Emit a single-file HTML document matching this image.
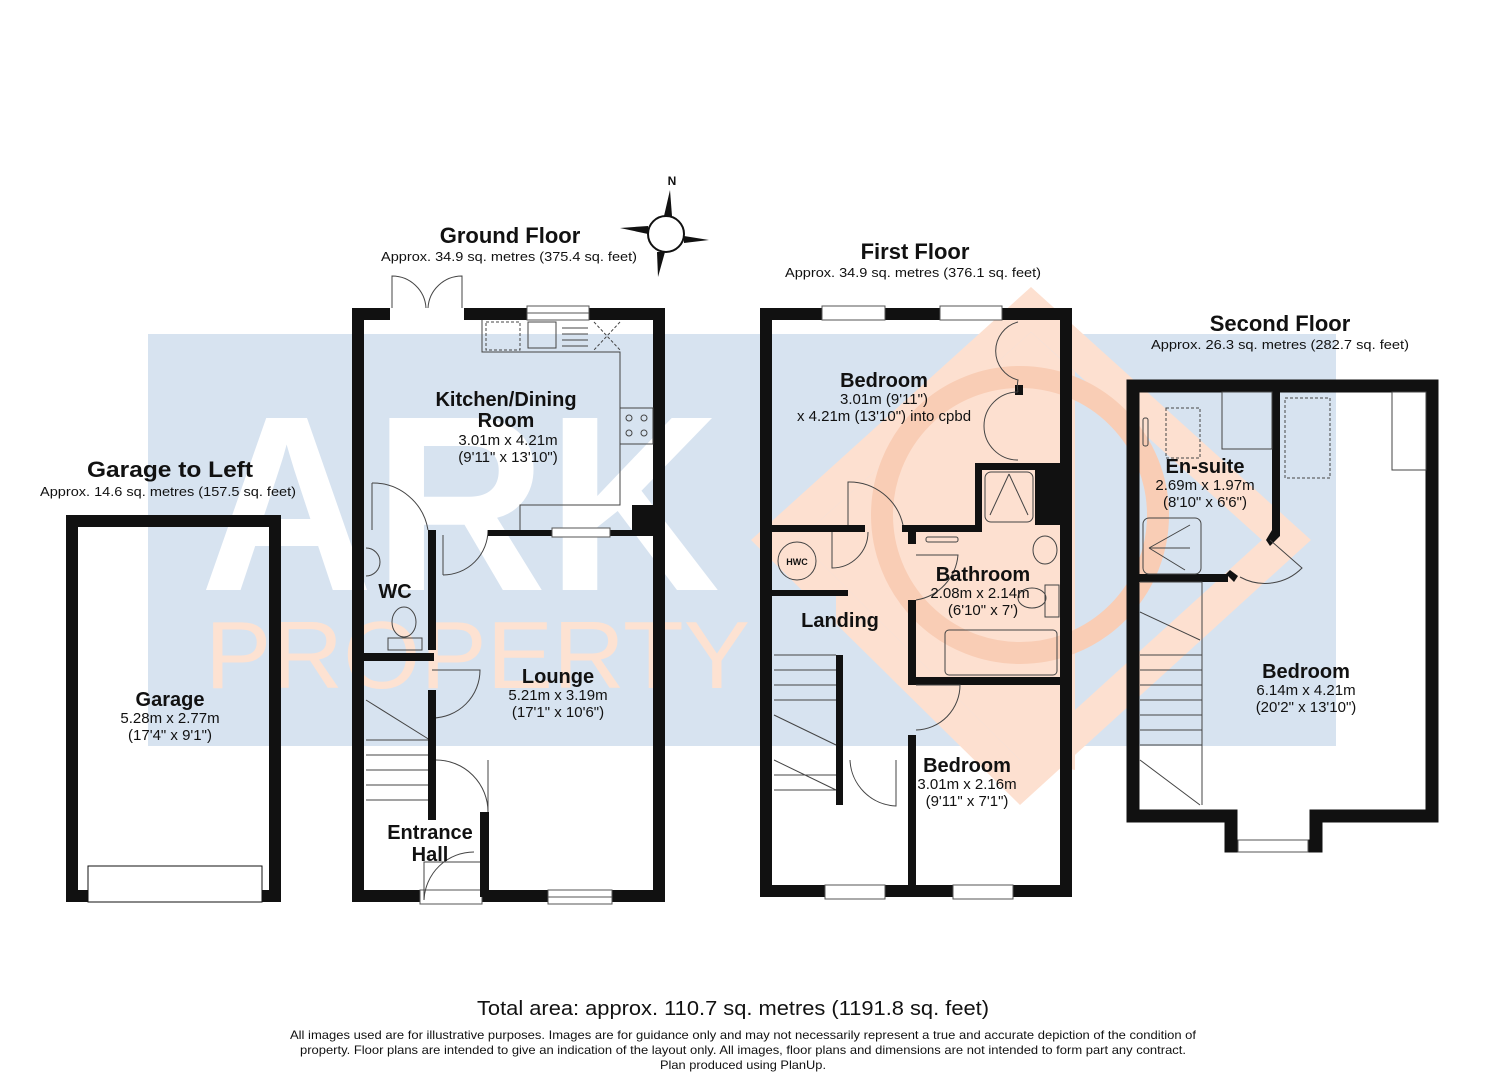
<!DOCTYPE html>
<html><head><meta charset="utf-8"><style>
html,body{margin:0;padding:0;background:#fff;width:1485px;height:1080px;overflow:hidden}
svg{display:block}
text{font-family:"Liberation Sans",Arial,sans-serif;fill:#111}
.b{font-weight:bold;font-size:20px}
.d{font-size:15px}
.t{font-weight:bold;font-size:22px}
.s{font-size:13px}
</style></head><body>
<svg width="1485" height="1080" viewBox="0 0 1485 1080" xmlns="http://www.w3.org/2000/svg">
<!-- watermark -->
<rect x="148" y="334" width="1188" height="412" fill="#d7e3f0"/>
<polygon points="1031,287 1311,540 1020,805 751,540" fill="#fde0d0"/>
<polygon points="1031,332 1262,540 1020,760 798,540" fill="#d7e3f0"/>
<polygon points="1031,332 1075,372 1075,770 1020,760 798,540" fill="#fde0d0"/>
<rect x="772" y="596" width="64" height="150" fill="#d7e3f0"/>
<circle cx="1020" cy="515" r="138" fill="none" stroke="#f9cdb5" stroke-width="22"/>
<text x="200" y="590" style="font-size:250px;font-weight:bold;fill:#fff" textLength="520" lengthAdjust="spacingAndGlyphs">ARK</text>
<text x="205" y="688" style="font-size:96px;fill:#fde2d2" textLength="545" lengthAdjust="spacingAndGlyphs">PROPERTY</text>

<g fill="none" stroke="#111">
<rect x="72" y="521" width="203" height="375" stroke-width="12"/>
<rect x="88" y="866" width="174" height="36" fill="#fff" stroke-width="1"/>
<rect x="358" y="314" width="301" height="582" stroke-width="12"/>
</g>
<rect x="390" y="306" width="74" height="14" fill="#fff"/>
<rect x="527" y="306" width="62" height="14" fill="#fff" stroke="#555" stroke-width="1"/>
<line x1="527" y1="313" x2="589" y2="313" stroke="#555"/>
<rect x="420" y="890" width="62" height="14" fill="#fff" stroke="#555"/>
<rect x="548" y="890" width="64" height="14" fill="#fff" stroke="#555"/>
<line x1="548" y1="897" x2="612" y2="897" stroke="#555"/>
<g fill="none" stroke="#444" stroke-width="1">
<path d="M392 308 L392 276 A34 34 0 0 1 426 308 M462 308 L462 276 A34 34 0 0 0 428 308"/>
<path d="M482 320 L482 352 L620 352 L620 505 L520 505 L520 530"/>
<rect x="486" y="322" width="34" height="28" stroke-dasharray="3 2"/>
<rect x="528" y="322" width="28" height="26"/>
<path d="M562 328 H588 M562 334 H588 M562 340 H588 M562 346 H588"/>
<path d="M594 322 L620 350 M620 322 L594 350" stroke-dasharray="3 2"/>
<rect x="620" y="408" width="33" height="36"/>
<circle cx="629" cy="418" r="3"/><circle cx="644" cy="418" r="3"/><circle cx="629" cy="433" r="3"/><circle cx="644" cy="433" r="3"/>
<path d="M372 483 L372 530 M372 483 A56 56 0 0 1 428 530"/>
<path d="M443 575 L443 535 M443 575 A45 45 0 0 0 488 530"/>
<path d="M432 670 L480 670 A48 48 0 0 1 432 718"/>
<path d="M436 760 A52 52 0 0 1 488 812 L488 760"/>
<path d="M424 900 L424 862 L480 862"/>
<path d="M424 900 A50 50 0 0 1 474 852"/>
<path d="M366 700 L430 740 M366 740 H430 M366 755 H430 M366 770 H430 M366 785 H430 M366 800 H430"/>
<ellipse cx="404" cy="622" rx="12" ry="15"/><rect x="388" y="638" width="34" height="12"/>
<path d="M366 548 A14 14 0 0 1 366 576"/>
</g>
<g fill="#111">
<rect x="428" y="530" width="8" height="120"/>
<rect x="364" y="653" width="70" height="8"/>
<rect x="428" y="690" width="8" height="130"/>
<rect x="488" y="530" width="170" height="6"/>
<rect x="632" y="505" width="26" height="28"/>
<rect x="480" y="812" width="9" height="85"/>
</g>
<rect x="552" y="528" width="58" height="9" fill="#fff" stroke="#555"/>

<!-- First floor -->
<rect x="766" y="314" width="300" height="577" fill="none" stroke="#111" stroke-width="12"/>
<rect x="822" y="306" width="63" height="14" fill="#fff" stroke="#555"/>
<rect x="940" y="306" width="62" height="14" fill="#fff" stroke="#555"/>
<rect x="825" y="885" width="60" height="14" fill="#fff" stroke="#555"/>
<rect x="953" y="885" width="60" height="14" fill="#fff" stroke="#555"/>
<g fill="#111">
<rect x="975" y="463" width="97" height="7"/>
<rect x="1035" y="463" width="37" height="62"/>
<rect x="772" y="525" width="93" height="7"/>
<rect x="902" y="525" width="80" height="7"/>
<rect x="975" y="463" width="7" height="69"/>
<rect x="772" y="590" width="76" height="6"/>
<rect x="908" y="532" width="8" height="12"/>
<rect x="908" y="600" width="8" height="85"/>
<rect x="908" y="677" width="160" height="8"/>
<rect x="908" y="735" width="8" height="152"/>
<rect x="836" y="655" width="7" height="150"/>
<rect x="1015" y="385" width="8" height="10"/>
</g>
<g fill="none" stroke="#444" stroke-width="1">
<path d="M1018 322 A30 30 0 0 0 1018 380 A30 30 0 0 0 1018 392 M1018 392 A32 32 0 0 0 1018 460"/>
<rect x="985" y="472" width="48" height="50" rx="6"/>
<path d="M1009 474 L990 515 M1009 474 L1028 515"/>
<path d="M848 525 L848 482 A55 55 0 0 1 903 525"/>
<path d="M832 532 L832 568 A36 36 0 0 0 868 532"/>
<circle cx="797" cy="561" r="19"/>
<path d="M916 555 L958 555 A50 50 0 0 1 916 600"/>
<rect x="926" y="537" width="32" height="5" rx="2"/>
<ellipse cx="1045" cy="550" rx="12" ry="14"/>
<ellipse cx="1032" cy="598" rx="14" ry="10"/><rect x="1045" y="585" width="14" height="32"/>
<rect x="945" y="630" width="112" height="45" rx="4"/>
<path d="M916 685 L960 685 A45 45 0 0 1 916 730"/>
<path d="M850 760 A48 48 0 0 0 896 806 L896 760"/>
<path d="M774 655 H836 M774 670 H836 M774 685 H836 M774 700 H836 M774 715 L836 745 M774 760 L836 790 M774 775 H836 M774 790 H836"/>
</g>
<text x="797" y="565" style="font-size:9px;font-weight:bold" text-anchor="middle">HWC</text>

<!-- Second floor -->
<path d="M1133 386 H1432 V816 H1316 V846 H1231 V816 H1133 Z" fill="none" stroke="#111" stroke-width="13"/>
<rect x="1238" y="840" width="70" height="12" fill="#fff" stroke="#555"/>
<g fill="#111">
<rect x="1272" y="392" width="8" height="140"/>
<path d="M1272 530 L1280 530 L1280 536 L1270 546 L1266 540 Z"/>
<rect x="1138" y="574" width="90" height="8"/>
<path d="M1226 574 L1234 582 L1238 576 L1230 570 Z"/>
</g>
<g fill="none" stroke="#444" stroke-width="1">
<rect x="1143" y="518" width="58" height="56" rx="6"/>
<path d="M1149 548 L1190 525 M1149 548 L1190 548 M1149 548 L1185 570"/>
<rect x="1166" y="408" width="34" height="50" stroke-dasharray="3 2"/>
<rect x="1285" y="398" width="45" height="80" stroke-dasharray="3 2"/>
<rect x="1222" y="392" width="50" height="57"/>
<rect x="1392" y="392" width="34" height="78"/>
<rect x="1143" y="418" width="5" height="28" rx="2"/>
<path d="M1240 577 A52 52 0 0 0 1302 568 L1270 540"/>
<path d="M1140 582 L1202 582 L1202 805 M1140 612 L1200 640 M1140 655 H1202 M1140 670 H1202 M1140 685 H1202 M1140 700 H1202 M1140 715 H1202 M1140 730 H1202 M1140 745 H1202 M1140 760 L1200 805"/>
</g>

<!-- compass -->
<circle cx="666" cy="234" r="18" fill="#fff" stroke="#111" stroke-width="2"/>
<polygon points="670,190 672,216 664,216" fill="#111"/>
<polygon points="709,240 684,236 684,243" fill="#111"/>
<polygon points="620,228 648,226 648,234" fill="#111"/>
<polygon points="658,277 657,252 665,252" fill="#111"/>
<text x="672" y="185" style="font-size:12px;font-weight:bold" text-anchor="middle">N</text>

<text x="510" y="243" class="t" text-anchor="middle">Ground Floor</text>
<text x="509" y="261" class="s" text-anchor="middle" textLength="256" lengthAdjust="spacingAndGlyphs">Approx. 34.9 sq. metres (375.4 sq. feet)</text>
<text x="915" y="259" class="t" text-anchor="middle">First Floor</text>
<text x="913" y="277" class="s" text-anchor="middle" textLength="256" lengthAdjust="spacingAndGlyphs">Approx. 34.9 sq. metres (376.1 sq. feet)</text>
<text x="1280" y="331" class="t" text-anchor="middle">Second Floor</text>
<text x="1280" y="349" class="s" text-anchor="middle" textLength="258" lengthAdjust="spacingAndGlyphs">Approx. 26.3 sq. metres (282.7 sq. feet)</text>
<text x="170" y="477" class="t" text-anchor="middle" textLength="166" lengthAdjust="spacingAndGlyphs">Garage to Left</text>
<text x="168" y="496" class="s" text-anchor="middle" textLength="256" lengthAdjust="spacingAndGlyphs">Approx. 14.6 sq. metres (157.5 sq. feet)</text>

<text x="506" y="406" class="b" text-anchor="middle">Kitchen/Dining</text>
<text x="506" y="427" class="b" text-anchor="middle">Room</text>
<text x="508" y="445" class="d" text-anchor="middle">3.01m x 4.21m</text>
<text x="508" y="462" class="d" text-anchor="middle">(9'11" x 13'10")</text>
<text x="395" y="598" class="b" text-anchor="middle">WC</text>
<text x="558" y="683" class="b" text-anchor="middle">Lounge</text>
<text x="558" y="700" class="d" text-anchor="middle">5.21m x 3.19m</text>
<text x="558" y="717" class="d" text-anchor="middle">(17'1" x 10'6")</text>
<text x="430" y="839" class="b" text-anchor="middle">Entrance</text>
<text x="430" y="861" class="b" text-anchor="middle">Hall</text>
<text x="170" y="706" class="b" text-anchor="middle">Garage</text>
<text x="170" y="723" class="d" text-anchor="middle">5.28m x 2.77m</text>
<text x="170" y="740" class="d" text-anchor="middle">(17'4" x 9'1")</text>
<text x="884" y="387" class="b" text-anchor="middle">Bedroom</text>
<text x="884" y="404" class="d" text-anchor="middle">3.01m (9'11")</text>
<text x="884" y="421" class="d" text-anchor="middle">x 4.21m (13'10") into cpbd</text>
<text x="983" y="581" class="b" text-anchor="middle">Bathroom</text>
<text x="980" y="598" class="d" text-anchor="middle">2.08m x 2.14m</text>
<text x="983" y="615" class="d" text-anchor="middle">(6'10" x 7')</text>
<text x="840" y="627" class="b" text-anchor="middle">Landing</text>
<text x="967" y="772" class="b" text-anchor="middle">Bedroom</text>
<text x="967" y="789" class="d" text-anchor="middle">3.01m x 2.16m</text>
<text x="967" y="806" class="d" text-anchor="middle">(9'11" x 7'1")</text>
<text x="1205" y="473" class="b" text-anchor="middle">En-suite</text>
<text x="1205" y="490" class="d" text-anchor="middle">2.69m x 1.97m</text>
<text x="1205" y="507" class="d" text-anchor="middle">(8'10" x 6'6")</text>
<text x="1306" y="678" class="b" text-anchor="middle">Bedroom</text>
<text x="1306" y="695" class="d" text-anchor="middle">6.14m x 4.21m</text>
<text x="1306" y="712" class="d" text-anchor="middle">(20'2" x 13'10")</text>

<text x="733" y="1015" style="font-size:20px" text-anchor="middle" textLength="512" lengthAdjust="spacingAndGlyphs">Total area: approx. 110.7 sq. metres (1191.8 sq. feet)</text>
<text x="743" y="1039" style="font-size:12px" text-anchor="middle" textLength="906" lengthAdjust="spacingAndGlyphs">All images used are for illustrative purposes. Images are for guidance only and may not necessarily represent a true and accurate depiction of the condition of</text>
<text x="743" y="1054" style="font-size:12px" text-anchor="middle" textLength="886" lengthAdjust="spacingAndGlyphs">property. Floor plans are intended to give an indication of the layout only. All images, floor plans and dimensions are not intended to form part any contract.</text>
<text x="743" y="1069" style="font-size:12px" text-anchor="middle" textLength="166" lengthAdjust="spacingAndGlyphs">Plan produced using PlanUp.</text>
</svg>
</body></html>
